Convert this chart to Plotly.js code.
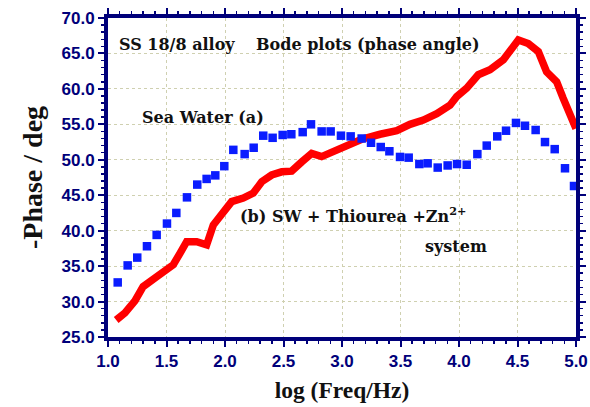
<!DOCTYPE html>
<html><head><meta charset="utf-8">
<script src="https://cdn.plot.ly/plotly-3.0.1.min.js"></script>
<style>body{margin:0;background:#fff}#c{width:590px;height:407px}</style>
</head><body><div id="c"></div>
<script>
const seaX = [1.083,1.168,1.25,1.333,1.416,1.504,1.584,1.675,1.763,1.843,1.917,1.994,2.071,2.168,2.245,2.327,2.407,2.493,2.567,2.664,2.735,2.826,2.903,2.991,3.074,3.168,3.248,3.331,3.405,3.496,3.57,3.661,3.732,3.818,3.903,3.983,4.066,4.157,4.237,4.327,4.402,4.487,4.564,4.655,4.735,4.818,4.906,4.983];
const seaY = [32.7,35.1,36.2,37.8,39.4,41.0,42.5,44.7,46.5,47.3,47.8,49.1,51.4,50.8,51.7,53.4,53.1,53.5,53.6,53.9,55.0,54.0,54.0,53.4,53.3,53.0,52.4,51.8,51.2,50.4,50.3,49.4,49.5,48.9,49.2,49.4,49.3,50.8,52.0,53.3,54.1,55.2,54.8,54.2,52.5,51.5,48.8,46.3];
const inhX = [1.07,1.145,1.23,1.30,1.416,1.558,1.615,1.672,1.758,1.843,1.90,1.97,2.057,2.156,2.242,2.314,2.399,2.485,2.57,2.656,2.741,2.826,2.897,3.04,3.168,3.325,3.468,3.581,3.695,3.81,3.923,3.98,4.066,4.165,4.265,4.379,4.45,4.507,4.592,4.678,4.749,4.835,4.89,4.96,5.0];
const inhY = [27.4,28.4,30.1,32.1,33.5,35.2,36.8,38.45,38.45,38.0,40.8,42.2,44.1,44.6,45.3,46.9,47.85,48.3,48.4,49.7,50.9,50.45,51.0,51.85,52.9,53.6,54.1,55.0,55.6,56.5,57.7,58.9,60.1,62.0,62.7,64.1,65.5,66.9,66.4,65.25,62.4,61.0,58.7,56.3,54.4];
const xTicks = [1.0,1.5,2.0,2.5,3.0,3.5,4.0,4.5,5.0];
const yTicks = [25,30,35,40,45,50,55,60,65,70];

const navy = '#00007a';
const tickFont = {family:'Liberation Sans, Arial, sans-serif', size:17, color:navy, weight:'bold'};
const annFont = {family:'DejaVu Serif, serif', size:16, color:'#111', weight:'bold'};

const traces = [
  {x: inhX, y: inhY, mode:'lines', line:{color:'#ff0000', width:7.5, shape:'linear'}, hoverinfo:'none'},
  {x: seaX, y: seaY, mode:'markers', marker:{symbol:'square', size:8.5, color:'#0a1cff', line:{width:0}}, hoverinfo:'none'}
];

const axisCommon = {
  showline:true, linecolor:navy, linewidth:4, mirror:'allticks',
  ticks:'outside', ticklen:6, tickwidth:2, tickcolor:navy,
  tickfont: tickFont, showgrid:true, gridcolor:'#cfd0b0', griddash:'dot', gridwidth:1,
  zeroline:false
};

const layout = {
  width:590, height:407,
  margin:{l:108, r:14, t:18, b:70},
  paper_bgcolor:'#fff', plot_bgcolor:'#fff',
  showlegend:false,
  xaxis: Object.assign({}, axisCommon, {
    range:[1,5], tickvals:xTicks, ticktext:xTicks.map(v=>v.toFixed(1)),
    minor:{dtick:0.1, ticklen:3, tickwidth:1.5, tickcolor:navy, ticks:'outside', showgrid:false},
    title:{text:'log (Freq/Hz)', font:{family:'Liberation Serif, Times New Roman, serif', size:23.5, color:'#111', weight:'bold'}, standoff:12}
  }),
  yaxis: Object.assign({}, axisCommon, {
    range:[25,70], tickvals:yTicks, ticktext:yTicks.map(v=>v.toFixed(1)),
    minor:{dtick:1, ticklen:3, tickwidth:1.5, tickcolor:navy, ticks:'outside', showgrid:false},
    title:{text:'-Phase / deg', font:{family:'Liberation Serif, Times New Roman, serif', size:28, color:'#111', weight:'bold'}, standoff:12}
  }),
  annotations:[
    {x:1.077, y:66.2, xref:'x', yref:'y', xanchor:'left', text:'SS 18/8 alloy', showarrow:false, font:annFont},
    {x:2.248, y:66.2, xref:'x', yref:'y', xanchor:'left', text:'Bode plots (phase angle)', showarrow:false, font:annFont},
    {x:1.273, y:55.9, xref:'x', yref:'y', xanchor:'left', text:'Sea Water (a)', showarrow:false, font:annFont},
    {x:2.111, y:42.2, xref:'x', yref:'y', xanchor:'left', text:'(b) SW + Thiourea +Zn<sup>2+</sup>', showarrow:false, font:annFont},
    {x:3.69, y:37.8, xref:'x', yref:'y', xanchor:'left', text:'system', showarrow:false, font:annFont}
  ]
};

Plotly.newPlot('c', traces, layout, {staticPlot:true, displayModeBar:false});
</script></body></html>
